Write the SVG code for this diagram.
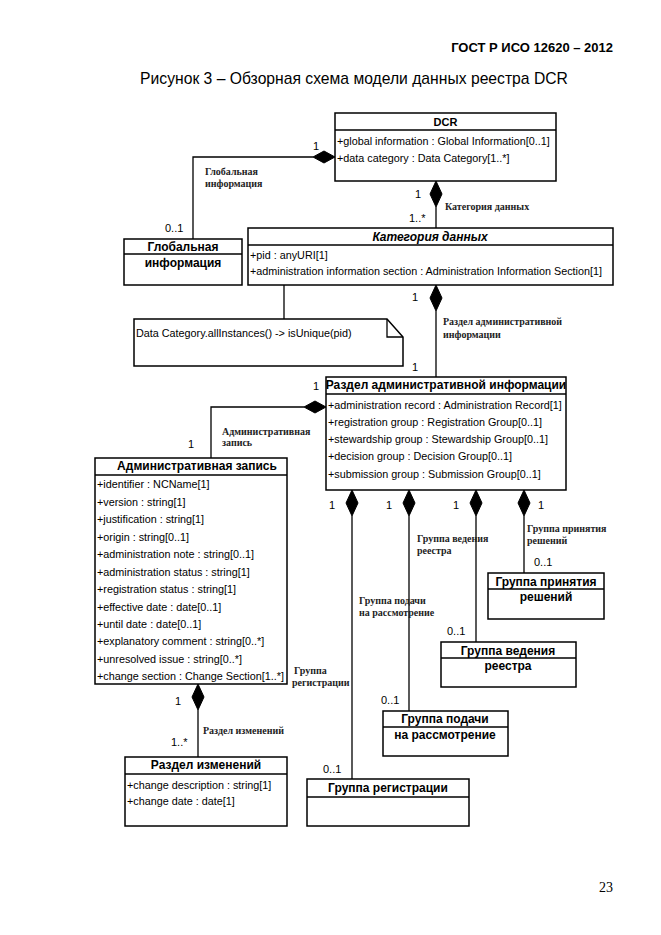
<svg xmlns="http://www.w3.org/2000/svg" width="661" height="935" viewBox="0 0 661 935">
<style>
.box{fill:#fff;stroke:#000;stroke-width:1.5}
.sep{stroke:#000;stroke-width:1.3}
.ln{fill:none;stroke:#000;stroke-width:1.3}
.dm{fill:#000;stroke:#000;stroke-width:1}
.t{font-family:"Liberation Sans",Arial,sans-serif;font-size:12px;font-weight:bold;text-anchor:middle;fill:#000}
.a{font-family:"Liberation Sans",Arial,sans-serif;font-size:10.8px;fill:#000}
.m{font-family:"Liberation Sans",Arial,sans-serif;font-size:11px;fill:#000}
.s{font-family:"Liberation Serif","Times New Roman",serif;font-size:10px;font-weight:bold;fill:#222}
</style>
<rect width="661" height="935" fill="#fff"/>
<text x="613" y="52" style="font-family:'Liberation Sans',Arial,sans-serif;font-size:13px;font-weight:bold;text-anchor:end">ГОСТ Р ИСО 12620 – 2012</text>
<text x="354" y="84" style="font-family:'Liberation Sans',Arial,sans-serif;font-size:15.7px;text-anchor:middle">Рисунок 3 – Обзорная схема модели данных реестра DCR</text>
<text x="613" y="892" style="font-family:'Liberation Serif','Times New Roman',serif;font-size:14px;text-anchor:end">23</text>

<g id="connectors">
<polyline class="ln" points="313,157 193,157 193,239"/>
<polygon class="dm" points="335,157 324,151 313,157 324,163"/>
<line class="ln" x1="436" y1="207" x2="436" y2="228"/>
<polygon class="dm" points="436,181 442,194 436,207 430,194"/>
<line class="ln" x1="436" y1="311" x2="436" y2="377"/>
<polygon class="dm" points="436,285 442,298 436,311 430,298"/>
<line class="ln" x1="284" y1="285" x2="284" y2="319"/>
<polyline class="ln" points="304,407 211,407 211,458"/>
<polygon class="dm" points="326,407 315,401 304,407 315,413"/>
<line class="ln" x1="198" y1="710" x2="198" y2="757"/>
<polygon class="dm" points="198,684 204,697 198,710 192,697"/>
<line class="ln" x1="352" y1="516" x2="352" y2="779"/>
<polygon class="dm" points="352,490 358,503 352,516 346,503"/>
<line class="ln" x1="409" y1="516" x2="409" y2="711"/>
<polygon class="dm" points="409,490 415,503 409,516 403,503"/>
<line class="ln" x1="476" y1="516" x2="476" y2="642"/>
<polygon class="dm" points="476,490 482,503 476,516 470,503"/>
<line class="ln" x1="524" y1="516" x2="524" y2="573"/>
<polygon class="dm" points="524,490 530,503 524,516 518,503"/>

<text class="m" x="313" y="150">1</text>
<text class="m" x="165" y="232">0..1</text>
<text class="s" x="205" y="175">Глобальная</text>
<text class="s" x="205" y="187">информация</text>
<text class="m" x="415" y="198">1</text>
<text class="m" x="409" y="222">1..*</text>
<text class="s" x="445" y="210">Категория данных</text>
<text class="m" x="412" y="301">1</text>
<text class="s" x="443" y="325">Раздел административной</text>
<text class="s" x="443" y="338">информации</text>
<text class="m" x="412" y="371">1</text>
<text class="m" x="313" y="390">1</text>
<text class="s" x="222" y="435">Административная</text>
<text class="s" x="222" y="446">запись</text>
<text class="m" x="188" y="448">1</text>
<text class="m" x="329" y="509">1</text>
<text class="m" x="386" y="509">1</text>
<text class="m" x="453" y="509">1</text>
<text class="m" x="538" y="509">1</text>
<text class="s" x="527" y="532">Группа принятия</text>
<text class="s" x="527" y="544">решений</text>
<text class="m" x="534" y="566">0..1</text>
<text class="s" x="417" y="542">Группа ведения</text>
<text class="s" x="417" y="554">реестра</text>
<text class="m" x="447" y="635">0..1</text>
<text class="s" x="359" y="604">Группа подачи</text>
<text class="s" x="359" y="616">на рассмотрение</text>
<text class="m" x="381" y="704">0..1</text>
<text class="s" x="294" y="674">Группа</text>
<text class="s" x="292" y="686">регистрации</text>
<text class="m" x="323" y="773">0..1</text>
<text class="m" x="175" y="705">1</text>
<text class="m" x="171" y="746">1..*</text>
<text class="s" x="203" y="734">Раздел изменений</text>
</g>

<g id="dcr">
<rect class="box" x="335" y="113" width="221" height="68"/>
<line class="sep" x1="335" y1="130" x2="556" y2="130"/>
<text class="t" x="445.5" y="126" style="font-size:11px">DCR</text>
<text class="a" x="337" y="145">+global information : Global Information[0..1]</text>
<text class="a" x="337" y="162">+data category : Data Category[1..*]</text>
</g>

<g id="global-info">
<rect class="box" x="124" y="239" width="118" height="46"/>
<line class="sep" x1="124" y1="254" x2="242" y2="254"/>
<text class="t" x="183" y="251">Глобальная</text>
<text class="t" x="183" y="267">информация</text>
</g>

<g id="data-category">
<rect class="box" x="248" y="228" width="365" height="57"/>
<line class="sep" x1="248" y1="245" x2="613" y2="245"/>
<text class="t" x="430" y="241" font-style="italic">Категория данных</text>
<text class="a" x="250" y="259">+pid : anyURI[1]</text>
<text class="a" x="250" y="275">+administration information section : Administration Information Section[1]</text>
</g>

<g id="note">
<path class="box" d="M134,319 H387 L403,337 V366 H134 Z"/>
<polyline class="ln" points="387,319 387,337 403,337"/>
<text class="a" x="136" y="337">Data Category.allInstances() -&gt; isUnique(pid)</text>
</g>

<g id="admin-info-section">
<rect class="box" x="326" y="377" width="240" height="113"/>
<line class="sep" x1="326" y1="394" x2="566" y2="394"/>
<text class="t" x="446" y="389">Раздел административной информации</text>
<text class="a" x="328" y="409">+administration record : Administration Record[1]</text>
<text class="a" x="328" y="426">+registration group : Registration Group[0..1]</text>
<text class="a" x="328" y="443">+stewardship group : Stewardship Group[0..1]</text>
<text class="a" x="328" y="460">+decision group : Decision Group[0..1]</text>
<text class="a" x="328" y="478">+submission group : Submission Group[0..1]</text>
</g>

<g id="admin-record">
<rect class="box" x="95" y="458" width="192" height="226"/>
<line class="sep" x1="95" y1="475" x2="287" y2="475"/>
<text class="t" x="197" y="470">Административная запись</text>
<text class="a" x="97" y="488">+identifier : NCName[1]</text>
<text class="a" x="97" y="506">+version : string[1]</text>
<text class="a" x="97" y="523">+justification : string[1]</text>
<text class="a" x="97" y="541">+origin : string[0..1]</text>
<text class="a" x="97" y="558">+administration note : string[0..1]</text>
<text class="a" x="97" y="576">+administration status : string[1]</text>
<text class="a" x="97" y="593">+registration status : string[1]</text>
<text class="a" x="97" y="611">+effective date : date[0..1]</text>
<text class="a" x="97" y="628">+until date : date[0..1]</text>
<text class="a" x="97" y="645">+explanatory comment : string[0..*]</text>
<text class="a" x="97" y="663">+unresolved issue : string[0..*]</text>
<text class="a" x="97" y="680">+change section : Change Section[1..*]</text>
</g>

<g id="change-section">
<rect class="box" x="125" y="757" width="162" height="69"/>
<line class="sep" x1="125" y1="774" x2="287" y2="774"/>
<text class="t" x="206" y="769">Раздел изменений</text>
<text class="a" x="127" y="789">+change description : string[1]</text>
<text class="a" x="127" y="805">+change date : date[1]</text>
</g>

<g id="registration-group">
<rect class="box" x="307" y="779" width="162" height="47"/>
<line class="sep" x1="307" y1="797" x2="469" y2="797"/>
<text class="t" x="388" y="792">Группа регистрации</text>
</g>

<g id="submission-group">
<rect class="box" x="383" y="711" width="125" height="45"/>
<line class="sep" x1="383" y1="727" x2="508" y2="727"/>
<text class="t" x="445" y="723">Группа подачи</text>
<text class="t" x="445" y="739">на рассмотрение</text>
</g>

<g id="stewardship-group">
<rect class="box" x="441" y="642" width="135" height="45"/>
<line class="sep" x1="441" y1="658" x2="576" y2="658"/>
<text class="t" x="508" y="655">Группа ведения</text>
<text class="t" x="508" y="670">реестра</text>
</g>

<g id="decision-group">
<rect class="box" x="488" y="573" width="116" height="46"/>
<line class="sep" x1="488" y1="589" x2="604" y2="589"/>
<text class="t" x="546" y="586">Группа принятия</text>
<text class="t" x="546" y="601">решений</text>
</g>
</svg>
